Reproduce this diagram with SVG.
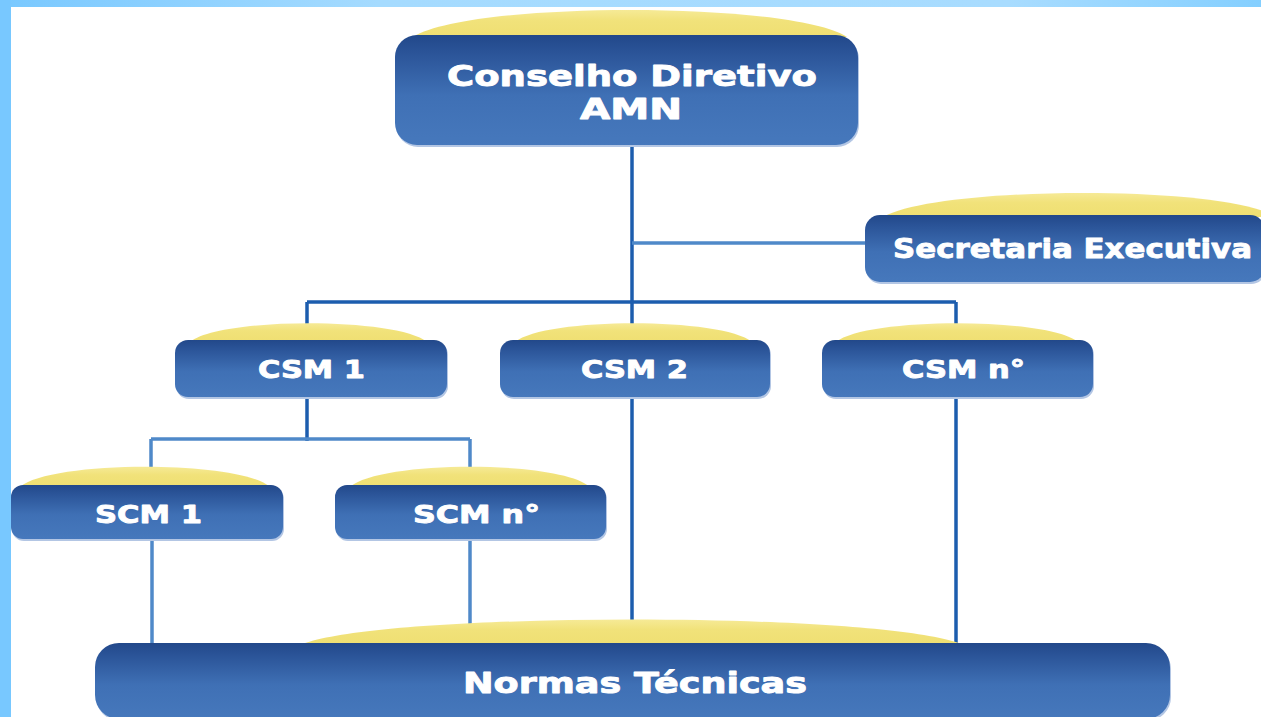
<svg xmlns="http://www.w3.org/2000/svg" width="1261" height="717" viewBox="0 0 1261 717">
  <defs>
    <linearGradient id="boxGrad" x1="0" y1="0" x2="0" y2="1">
      <stop offset="0" stop-color="#22488a"/>
      <stop offset="0.15" stop-color="#2a5397"/>
      <stop offset="0.55" stop-color="#3f70b5"/>
      <stop offset="1" stop-color="#4678bc"/>
    </linearGradient>
    <linearGradient id="capGrad" x1="0" y1="0" x2="0" y2="1">
      <stop offset="0" stop-color="#f6ea96"/>
      <stop offset="0.4" stop-color="#f1e27a"/>
      <stop offset="1" stop-color="#efdf72"/>
    </linearGradient>
    <linearGradient id="topStrip" x1="0" y1="0" x2="1" y2="0">
      <stop offset="0" stop-color="#78c8ff"/>
      <stop offset="0.3" stop-color="#a5dbff"/>
      <stop offset="0.8" stop-color="#a8dcff"/>
      <stop offset="1" stop-color="#84cfff"/>
    </linearGradient>
  </defs>
  <style>
    .box { fill: url(#boxGrad); }
    .shadow { fill: #b3c6e4; }
    .cap { fill: url(#capGrad); }
    .lbl { fill: #ffffff; stroke: #ffffff; stroke-width: 0.9; stroke-linejoin: round; font-family: "DejaVu Sans", Verdana, sans-serif; font-weight: bold; }
    .main { stroke: #1c5dae; stroke-width: 3.5; fill: none; }
    .lite { stroke: #4f89c9; stroke-width: 3.5; fill: none; }
  </style>

  <rect x="0" y="0" width="1261" height="717" fill="#ffffff"/>
  <rect x="0" y="0" width="1261" height="7" fill="url(#topStrip)"/>
  <rect x="0" y="0" width="11" height="717" fill="#78c8ff"/>

  <g id="connectors">
    <path class="main" d="M632 145 V330"/>
    <path class="lite" d="M632 243 H867"/>
    <path class="main" d="M307 302 H956"/>
    <path class="main" d="M307 302 V330"/>
    <path class="main" d="M956 302 V330"/>
    <path class="main" d="M307 397 V441"/>
    <path class="lite" d="M151 439 H470"/>
    <path class="lite" d="M151 439 V475"/>
    <path class="lite" d="M470 439 V475"/>
    <path class="main" d="M632 397 V630"/>
    <path class="main" d="M956 397 V645"/>
    <path class="lite" d="M152 539 V645"/>
    <path class="lite" d="M470 539 V630"/>
  </g>

  <g id="conselho">
    <path class="cap" d="M413 37 C470 1 790 1 847 37 Z"/>
    <rect class="shadow" x="396" y="37" width="463" height="110" rx="22"/>
    <rect class="box" x="395" y="35" width="463" height="110" rx="22"/>
    <text class="lbl" x="447" y="86" font-size="29" textLength="370" lengthAdjust="spacingAndGlyphs">Conselho Diretivo</text>
    <text class="lbl" x="580" y="119" font-size="29" textLength="102" lengthAdjust="spacingAndGlyphs">AMN</text>
  </g>

  <g id="secretaria">
    <path class="cap" d="M883 217 C940 185 1230 185 1275 217 Z"/>
    <rect class="shadow" x="866" y="217" width="400" height="67" rx="15"/>
    <rect class="box" x="865" y="215" width="400" height="67" rx="15"/>
    <text class="lbl" x="893" y="258" font-size="27" textLength="359" lengthAdjust="spacingAndGlyphs">Secretaria Executiva</text>
  </g>

  <g id="csm1">
    <path class="cap" d="M190 342 C220 317 397 317 427 342 Z"/>
    <rect class="shadow" x="176" y="342" width="272" height="57" rx="13"/>
    <rect class="box" x="175" y="340" width="272" height="57" rx="13"/>
    <text class="lbl" x="258" y="378" font-size="25" textLength="107" lengthAdjust="spacingAndGlyphs">CSM 1</text>
  </g>

  <g id="csm2">
    <path class="cap" d="M515 342 C545 317 722 317 752 342 Z"/>
    <rect class="shadow" x="501" y="342" width="270" height="57" rx="13"/>
    <rect class="box" x="500" y="340" width="270" height="57" rx="13"/>
    <text class="lbl" x="581" y="378" font-size="25" textLength="107" lengthAdjust="spacingAndGlyphs">CSM 2</text>
  </g>

  <g id="csmn">
    <path class="cap" d="M836 342 C866 317 1048 317 1078 342 Z"/>
    <rect class="shadow" x="823" y="342" width="271" height="57" rx="13"/>
    <rect class="box" x="822" y="340" width="271" height="57" rx="13"/>
    <text class="lbl" x="902" y="378" font-size="25" textLength="123" lengthAdjust="spacingAndGlyphs">CSM n°</text>
  </g>

  <g id="scm1">
    <path class="cap" d="M20 487 C50 460 240 460 270 487 Z"/>
    <rect class="shadow" x="12" y="487" width="272" height="54" rx="12"/>
    <rect class="box" x="11" y="485" width="272" height="54" rx="12"/>
    <text class="lbl" x="95" y="523" font-size="25" textLength="107" lengthAdjust="spacingAndGlyphs">SCM 1</text>
  </g>

  <g id="scmn">
    <path class="cap" d="M350 487 C380 460 560 460 590 487 Z"/>
    <rect class="shadow" x="336" y="487" width="271" height="54" rx="12"/>
    <rect class="box" x="335" y="485" width="271" height="54" rx="12"/>
    <text class="lbl" x="413" y="523" font-size="25" textLength="127" lengthAdjust="spacingAndGlyphs">SCM n°</text>
  </g>

  <g id="normas">
    <path class="cap" d="M300 645 C380 611 884 611 964 645 Z"/>
    <rect class="shadow" x="96" y="645" width="1075" height="76" rx="24"/>
    <rect class="box" x="95" y="643" width="1075" height="76" rx="24"/>
    <text class="lbl" x="463" y="693" font-size="29" textLength="344" lengthAdjust="spacingAndGlyphs">Normas Técnicas</text>
  </g>
</svg>
